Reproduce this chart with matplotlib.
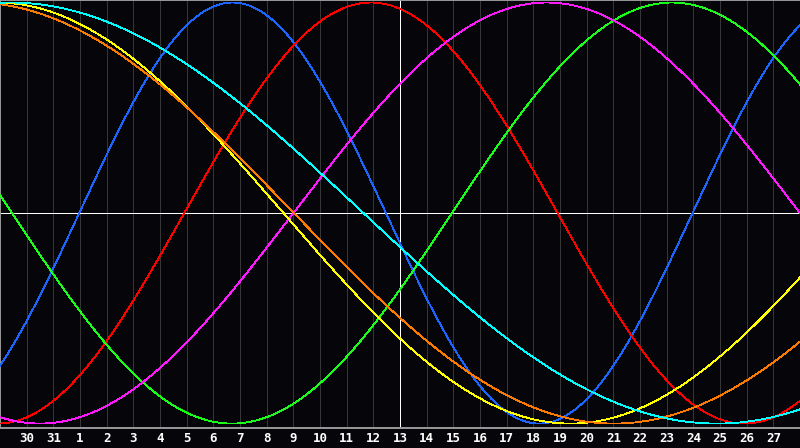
import numpy as np
import matplotlib
matplotlib.use("Agg")
import matplotlib.pyplot as plt

# day labels along the bottom (one per grid line)
day_labels = ["30", "31"] + [str(d) for d in range(1, 28)]
today_index = 15          # grid line of "13"
n_days = 30               # span of the chart in days

# rhythms: period (days) and day offset of the upward zero crossing
rhythm_names = ["physical", "emotional", "intellectual", "intuitive",
                "aesthetic", "awareness", "spiritual"]
periods = [23, 28, 33, 38, 43, 48, 53]
rising_zero = [2.97, 6.91, 16.95, 11.0, -10.87, -12.98, -12.87]
colors = ["#1a66ff", "#ff0000", "#19ff19", "#ff19ff",
          "#ffff00", "#ff7a00", "#00ffff"]

bg = "#060509"
lw = 0.72  # about one pixel at 100 dpi

fig = plt.figure(figsize=(8, 4.48), dpi=100, facecolor=bg)
ax = fig.add_axes([0, 20 / 448, 1, 428 / 448])
ax.set_facecolor(bg)

# faint day grid
for k in range(1, len(day_labels) + 1):
    c = "white" if k == today_index else "#363636"
    ax.axvline(k, color=c, lw=lw, zorder=1, antialiased=False)
ax.axhline(0, color="white", lw=lw, zorder=1, antialiased=False)

t = np.linspace(0, n_days, 1600)
for name, p, z, c in zip(rhythm_names, periods, rising_zero, colors):
    ax.plot(t, np.sin(2 * np.pi * (t - z) / p), color=c, lw=0.6,
            antialiased=False, zorder=3, label=name)

ax.set_xlim(0, n_days)
ax.set_ylim(-1.021, 1.012)
ax.set_xticks(range(1, len(day_labels) + 1))
ax.set_xticklabels(day_labels)
ax.set_yticks([])
ax.tick_params(axis="x", length=0, pad=3, colors="white", labelsize=9)
for lbl in ax.get_xticklabels():
    lbl.set_fontfamily("DejaVu Sans Mono")
    lbl.set_fontweight("bold")

for side in ["left", "top", "bottom"]:
    ax.spines[side].set_color("#9a9a9a")
    ax.spines[side].set_linewidth(1.4)
ax.spines["right"].set_visible(False)

fig.savefig("out.png", dpi=100, facecolor=bg)
